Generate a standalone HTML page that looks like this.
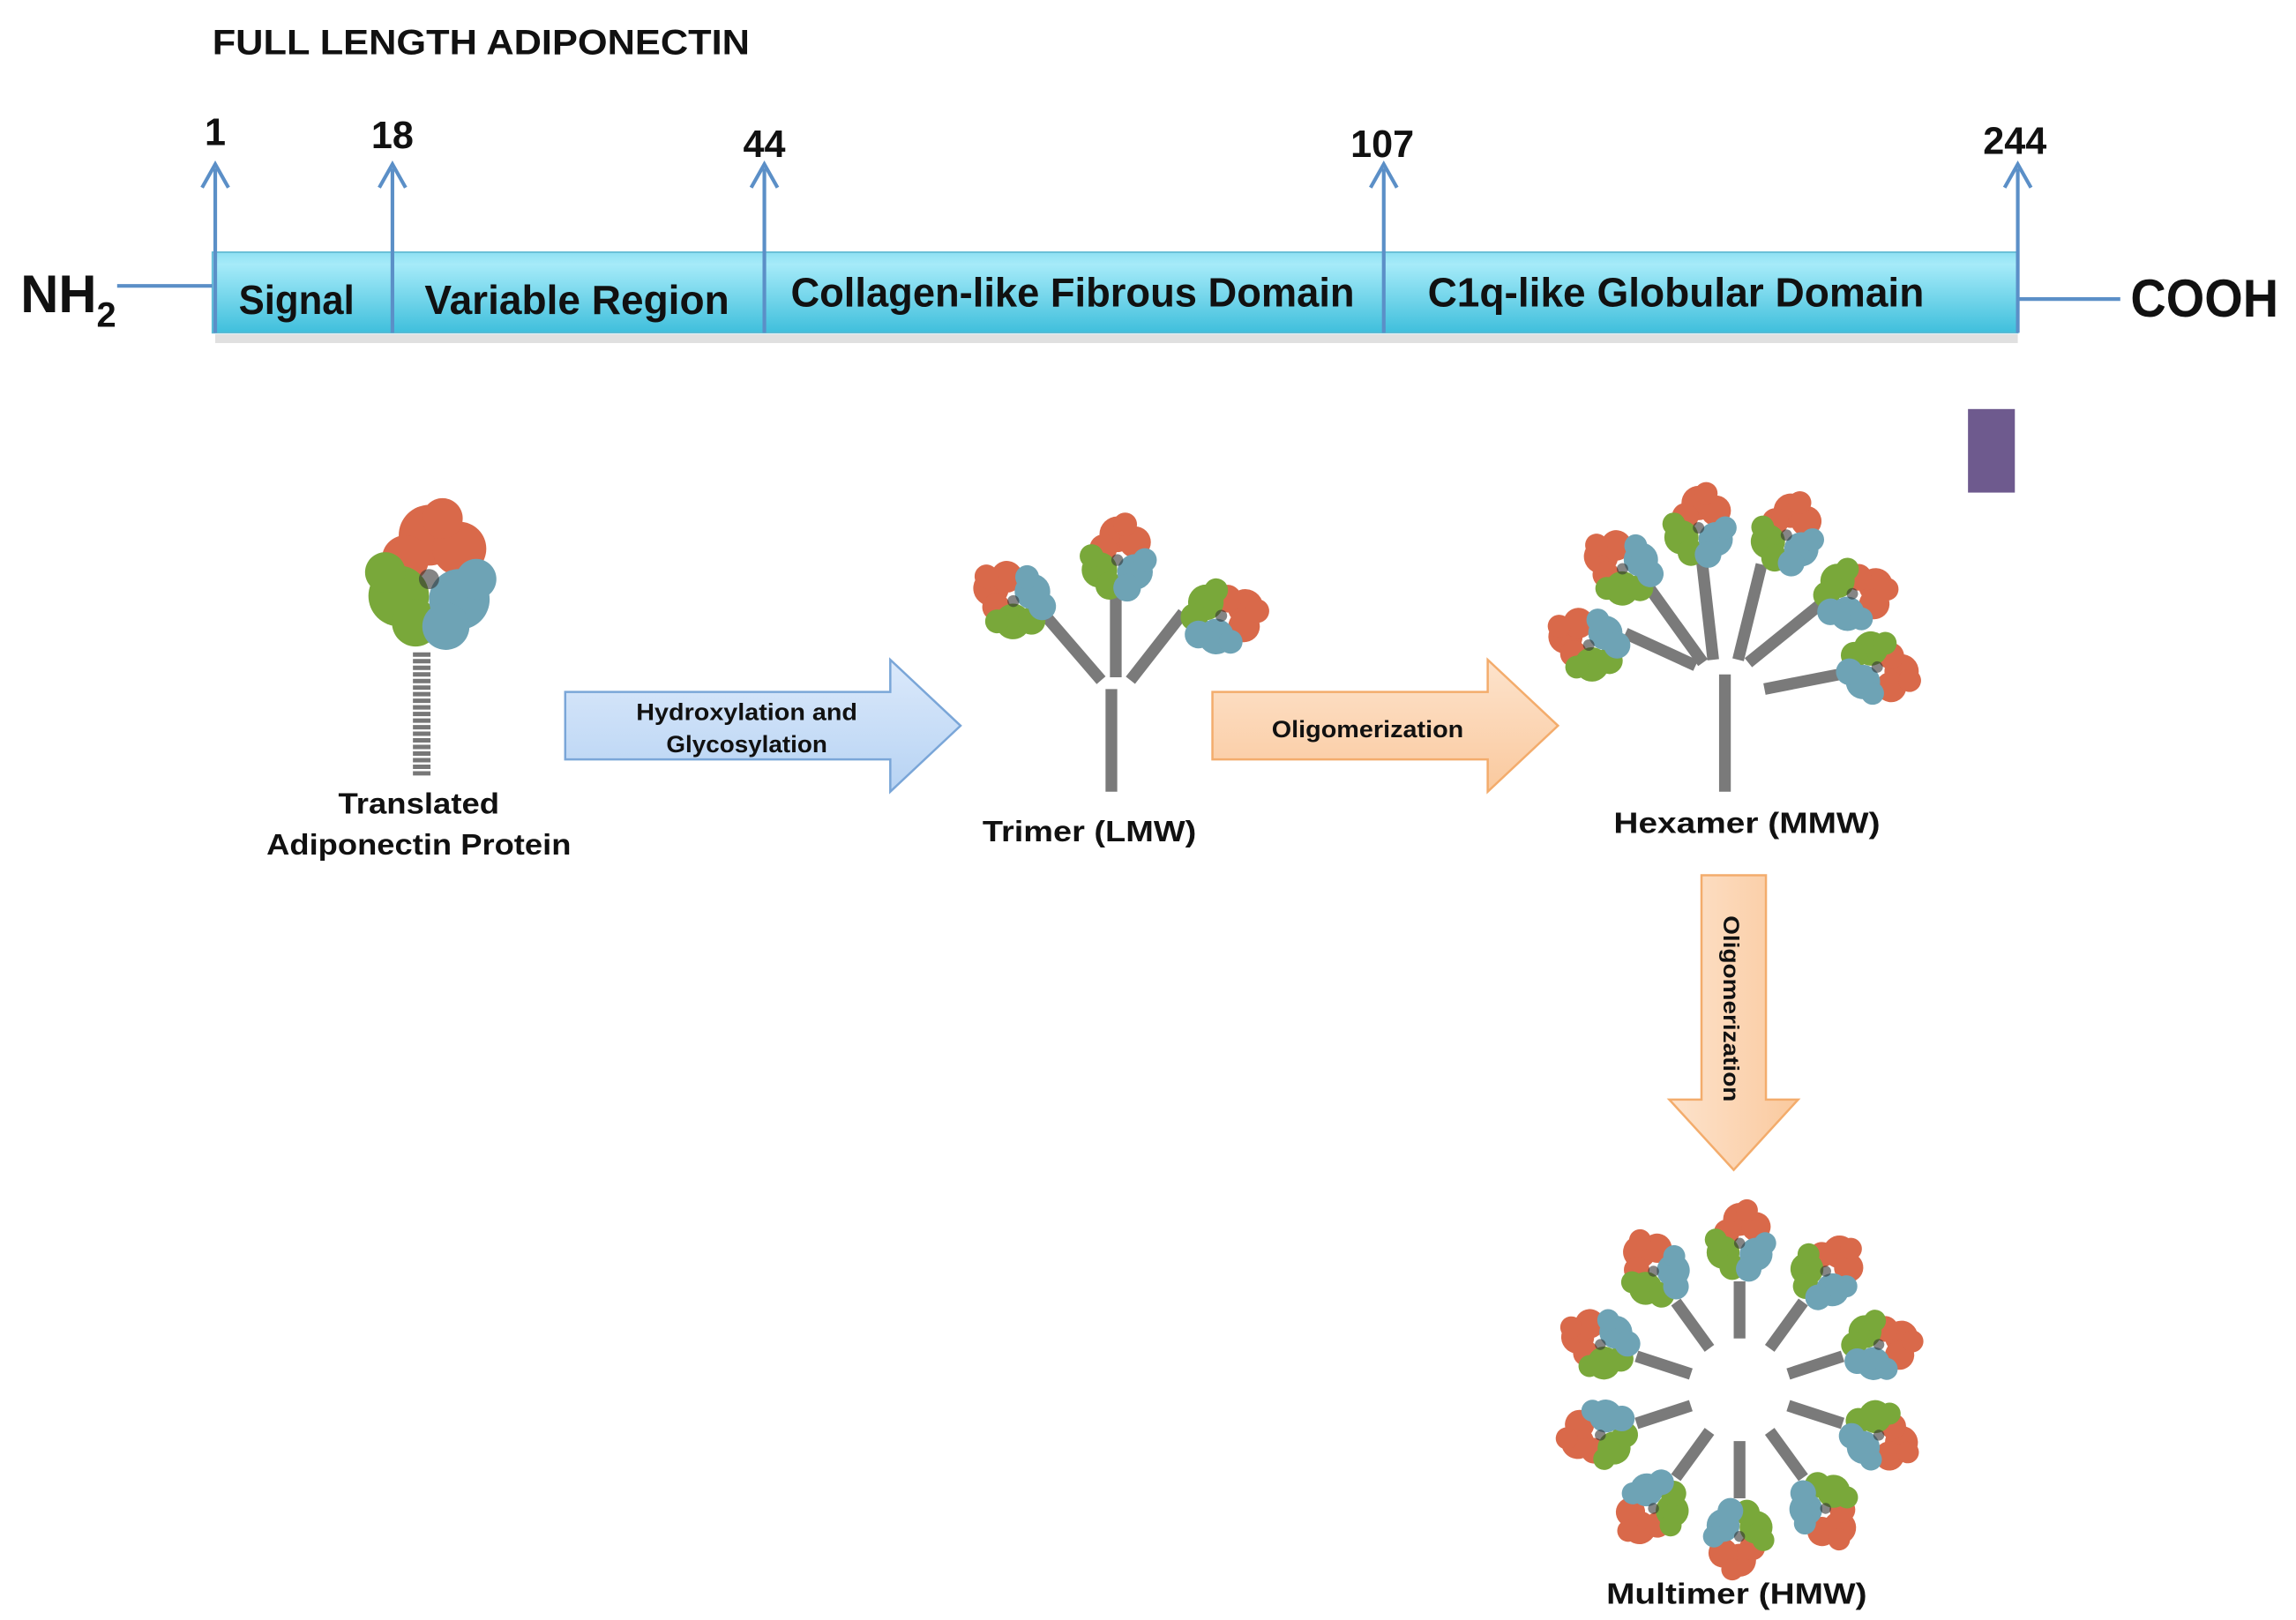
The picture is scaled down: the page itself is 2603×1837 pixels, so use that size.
<!DOCTYPE html>
<html><head><meta charset="utf-8"><style>
html,body{margin:0;padding:0;background:#fff;}
svg{display:block;}
text{font-family:"Liberation Sans",sans-serif;font-weight:bold;fill:#111;}
</style></head><body>
<svg width="2603" height="1837" viewBox="0 0 1568 1105" preserveAspectRatio="none" xmlns="http://www.w3.org/2000/svg">
<defs>
<linearGradient id="bar" x1="0" y1="0" x2="0" y2="1">
<stop offset="0" stop-color="#8ee0f2"/><stop offset="0.15" stop-color="#a6ebf9"/><stop offset="1" stop-color="#3fbfdc"/></linearGradient>
<linearGradient id="blu" x1="0" y1="0" x2="0" y2="1"><stop offset="0" stop-color="#dbe9fb"/><stop offset="1" stop-color="#b7d3f3"/></linearGradient>
<linearGradient id="org" x1="0" y1="0" x2="0" y2="1"><stop offset="0" stop-color="#fde3cc"/><stop offset="1" stop-color="#fac99e"/></linearGradient>
<linearGradient id="orgv" x1="0" y1="0" x2="1" y2="0"><stop offset="0" stop-color="#fde3cc"/><stop offset="1" stop-color="#fac99e"/></linearGradient>
<g id="head">
 <g fill="#d9694a"><circle cx="0" cy="-13" r="9"/><circle cx="9" cy="-9" r="8"/><circle cx="-7" cy="-6" r="7"/><circle cx="4" cy="-18" r="6"/></g>
 <g fill="#79a83a"><circle cx="-9" cy="5" r="9"/><circle cx="-4" cy="13" r="7"/><circle cx="-13" cy="-2" r="6"/></g>
 <g fill="#6ea3b5"><circle cx="9" cy="6" r="9"/><circle cx="5" cy="14" r="7"/><circle cx="14" cy="0" r="6"/></g>
 <circle cx="0" cy="0" r="3" fill="#333" opacity="0.6"/>
</g>
</defs>

<text x="145" y="37" font-size="24" textLength="367" lengthAdjust="spacingAndGlyphs">FULL LENGTH ADIPONECTIN</text>

<!-- bar -->
<rect x="147" y="228" width="1231" height="6" fill="#ccc" opacity="0.6"/>
<rect x="145" y="172" width="1233" height="55" fill="url(#bar)" stroke="#5db9d2" stroke-width="1"/>
<g stroke="#5b8fc7" stroke-width="2.5" fill="none">
<line x1="80" y1="195" x2="145" y2="195"/>
<line x1="1378" y1="204" x2="1448" y2="204"/>
<line x1="147" y1="115" x2="147" y2="227"/>
<line x1="268" y1="115" x2="268" y2="227"/>
<line x1="522" y1="115" x2="522" y2="227"/>
<line x1="945" y1="115" x2="945" y2="227"/>
<line x1="1378" y1="115" x2="1378" y2="227"/>
<polyline points="138,128 147,112 156,128"/>
<polyline points="259,128 268,112 277,128"/>
<polyline points="513,128 522,112 531,128"/>
<polyline points="936,128 945,112 954,128"/>
<polyline points="1369,128 1378,112 1387,128"/>
</g>
<g font-size="26" text-anchor="middle">
<text x="147" y="99">1</text><text x="268" y="101">18</text><text x="522" y="107">44</text><text x="944" y="107">107</text><text x="1376" y="105">244</text>
</g>
<text x="14" y="213" font-size="36" textLength="52" lengthAdjust="spacingAndGlyphs">NH</text>
<text x="66" y="223" font-size="24">2</text>
<text x="1455" y="216" font-size="36" textLength="101" lengthAdjust="spacingAndGlyphs">COOH</text>
<g font-size="28">
<text x="163" y="214" textLength="79" lengthAdjust="spacingAndGlyphs">Signal</text>
<text x="290" y="214" textLength="208" lengthAdjust="spacingAndGlyphs">Variable Region</text>
<text x="540" y="209" textLength="385" lengthAdjust="spacingAndGlyphs">Collagen-like Fibrous Domain</text>
<text x="975" y="209" textLength="339" lengthAdjust="spacingAndGlyphs">C1q-like Globular Domain</text>
</g>
<rect x="1344" y="279" width="32" height="57" fill="#6e5a8e"/>

<!-- monomer -->
<line x1="288" y1="445" x2="288" y2="530" stroke="#777" stroke-width="12" stroke-dasharray="3,1.5"/>
<g transform="translate(293,395) scale(2.3)"><use href="#head"/></g>
<text x="286" y="555" font-size="20" text-anchor="middle" textLength="110" lengthAdjust="spacingAndGlyphs">Translated</text>
<text x="286" y="583" font-size="20" text-anchor="middle" textLength="208" lengthAdjust="spacingAndGlyphs">Adiponectin Protein</text>

<!-- blue arrow -->
<polygon points="386,472 608,472 608,450 656,495 608,540 608,518 386,518" fill="url(#blu)" stroke="#7aa6d8" stroke-width="1.5"/>
<text x="510" y="491" font-size="16" text-anchor="middle" textLength="151" lengthAdjust="spacingAndGlyphs">Hydroxylation and</text>
<text x="510" y="513" font-size="16" text-anchor="middle" textLength="110" lengthAdjust="spacingAndGlyphs">Glycosylation</text>

<!-- trimer -->
<g stroke="#7a7a7a" stroke-width="8" stroke-linecap="butt">
<line x1="759" y1="470" x2="759" y2="540"/>
<line x1="762" y1="462" x2="762" y2="405"/>
<line x1="752" y1="464" x2="714" y2="420"/>
<line x1="772" y1="464" x2="808" y2="418"/>
</g>
<g transform="translate(692,410) scale(1.35) rotate(-60)"><use href="#head"/></g>
<g transform="translate(763,382) scale(1.35)"><use href="#head"/></g>
<g transform="translate(834,420) scale(1.35) rotate(70)"><use href="#head"/></g>
<text x="744" y="574" font-size="20" text-anchor="middle" textLength="146" lengthAdjust="spacingAndGlyphs">Trimer (LMW)</text>

<!-- orange arrow -->
<polygon points="828,472 1016,472 1016,450 1064,495 1016,540 1016,518 828,518" fill="url(#org)" stroke="#f3ac6c" stroke-width="1.5"/>
<text x="934" y="503" font-size="16" text-anchor="middle" textLength="131" lengthAdjust="spacingAndGlyphs">Oligomerization</text>

<!-- hexamer -->
<g stroke="#7a7a7a" stroke-width="8">
<line x1="1178" y1="460" x2="1178" y2="540"/>
<line x1="1158" y1="454" x2="1110" y2="432"/>
<line x1="1163" y1="452" x2="1122" y2="395"/>
<line x1="1170" y1="450" x2="1162" y2="380"/>
<line x1="1187" y1="450" x2="1203" y2="385"/>
<line x1="1194" y1="452" x2="1246" y2="410"/>
<line x1="1205" y1="470" x2="1256" y2="460"/>
</g>
<g transform="translate(1085,440) scale(1.3) rotate(-70)"><use href="#head"/></g>
<g transform="translate(1108,388) scale(1.3) rotate(-60)"><use href="#head"/></g>
<g transform="translate(1160,360) scale(1.3)"><use href="#head"/></g>
<g transform="translate(1220,365) scale(1.3) rotate(10)"><use href="#head"/></g>
<g transform="translate(1265,405) scale(1.3) rotate(70)"><use href="#head"/></g>
<g transform="translate(1282,455) scale(1.3) rotate(100)"><use href="#head"/></g>
<text x="1193" y="568" font-size="20" text-anchor="middle" textLength="182" lengthAdjust="spacingAndGlyphs">Hexamer (MMW)</text>

<!-- down arrow -->
<polygon points="1162,597 1206,597 1206,750 1228,750 1184,798 1140,750 1162,750" fill="url(#orgv)" stroke="#f3ac6c" stroke-width="1.5"/>
<text transform="translate(1177,688) rotate(90)" font-size="15" text-anchor="middle" textLength="127" lengthAdjust="spacingAndGlyphs">Oligomerization</text>

<!-- multimer -->
<g stroke="#7a7a7a" stroke-width="8">
<line x1="1188" y1="913" x2="1188" y2="874" transform="rotate(0 1188 948)"/>
<line x1="1188" y1="913" x2="1188" y2="874" transform="rotate(36 1188 948)"/>
<line x1="1188" y1="913" x2="1188" y2="874" transform="rotate(72 1188 948)"/>
<line x1="1188" y1="913" x2="1188" y2="874" transform="rotate(108 1188 948)"/>
<line x1="1188" y1="913" x2="1188" y2="874" transform="rotate(144 1188 948)"/>
<line x1="1188" y1="913" x2="1188" y2="874" transform="rotate(180 1188 948)"/>
<line x1="1188" y1="913" x2="1188" y2="874" transform="rotate(216 1188 948)"/>
<line x1="1188" y1="913" x2="1188" y2="874" transform="rotate(252 1188 948)"/>
<line x1="1188" y1="913" x2="1188" y2="874" transform="rotate(288 1188 948)"/>
<line x1="1188" y1="913" x2="1188" y2="874" transform="rotate(324 1188 948)"/>
</g>
<g transform="translate(1188,948)">
<g transform="rotate(0) translate(0,-100) scale(1.25)"><use href="#head"/></g>
<g transform="rotate(36) translate(0,-100) scale(1.25)"><use href="#head"/></g>
<g transform="rotate(72) translate(0,-100) scale(1.25)"><use href="#head"/></g>
<g transform="rotate(108) translate(0,-100) scale(1.25)"><use href="#head"/></g>
<g transform="rotate(144) translate(0,-100) scale(1.25)"><use href="#head"/></g>
<g transform="rotate(180) translate(0,-100) scale(1.25)"><use href="#head"/></g>
<g transform="rotate(216) translate(0,-100) scale(1.25)"><use href="#head"/></g>
<g transform="rotate(252) translate(0,-100) scale(1.25)"><use href="#head"/></g>
<g transform="rotate(288) translate(0,-100) scale(1.25)"><use href="#head"/></g>
<g transform="rotate(324) translate(0,-100) scale(1.25)"><use href="#head"/></g>
</g>
<text x="1186" y="1094" font-size="20" text-anchor="middle" textLength="178" lengthAdjust="spacingAndGlyphs">Multimer (HMW)</text>
</svg>
</body></html>
